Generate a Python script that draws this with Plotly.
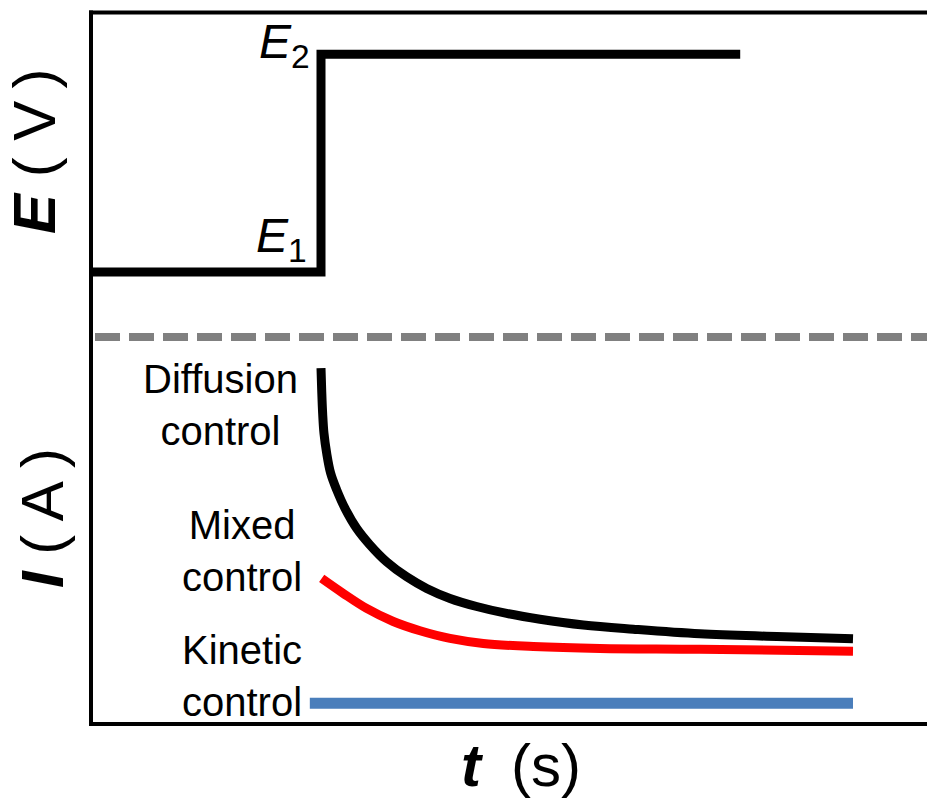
import plotly.graph_objects as go

# ---- data ----
# potential step (top panel)
step_t = [-4.342, 0.0, 0.0, 7.88]
step_E = [0.20, 0.20, 0.87, 0.87]

# current transients (bottom panel)
diff_t = [0.0, 0.013, 0.031, 0.056, 0.107, 0.182, 0.295, 0.451, 0.671, 0.921, 1.235, 1.611,
          1.987, 2.425, 2.926, 3.490, 4.117, 4.930, 5.870, 7.124, 8.57, 10.0]
diff_I = [0.919, 0.862, 0.802, 0.750, 0.698, 0.646, 0.603, 0.555, 0.503, 0.460, 0.416, 0.377,
          0.347, 0.321, 0.300, 0.282, 0.267, 0.252, 0.241, 0.229, 0.222, 0.216]

mixed_t = [0.013, 0.419, 0.858, 1.359, 1.861, 2.425, 3.051, 3.991, 5.244, 7.124, 10.0]
mixed_I = [0.373, 0.334, 0.295, 0.261, 0.237, 0.217, 0.204, 0.196, 0.191, 0.189, 0.184]

kin_t = [-0.21, 10.0]
kin_I = [0.049, 0.049]

labels = ["Diffusion<br>control", "Mixed<br>control", "Kinetic<br>control"]

# ---- layout helpers (pixel -> paper) ----
L, T, R, B = 90, 12, 0, 78
W, H = 927, 800
PW, PH = W - L - R, H - T - B


def px(x):
    return (x - L) / PW


def py(y):
    return (H - B - y) / PH


split = py(337)
FONT = "Liberation Sans, Arial, sans-serif"

fig = go.Figure()
fig.add_trace(go.Scatter(x=step_t, y=step_E, mode="lines", xaxis="x", yaxis="y",
                         line=dict(color="black", width=9), hoverinfo="skip"))
fig.add_trace(go.Scatter(x=kin_t, y=kin_I, mode="lines", xaxis="x", yaxis="y2",
                         line=dict(color="#4a7ebb", width=11), hoverinfo="skip"))
fig.add_trace(go.Scatter(x=mixed_t, y=mixed_I, mode="lines", xaxis="x", yaxis="y2",
                         line=dict(color="#ff0000", width=9, shape="spline", smoothing=1.0),
                         hoverinfo="skip"))
fig.add_trace(go.Scatter(x=diff_t, y=diff_I, mode="lines", xaxis="x", yaxis="y2",
                         line=dict(color="black", width=9, shape="spline", smoothing=1.0),
                         hoverinfo="skip"))

axis_common = dict(showgrid=False, zeroline=False, showticklabels=False, ticks="",
                   showline=False, fixedrange=True)

frame = dict(color="black", width=4)
fig.update_layout(
    width=W, height=H,
    margin=dict(l=L, r=R, t=T, b=B, pad=0),
    paper_bgcolor="white", plot_bgcolor="white",
    showlegend=False,
    font=dict(family=FONT, color="black"),
    xaxis=dict(domain=[0, 1], range=[-4.342, 11.391], anchor="y2", **axis_common),
    yaxis=dict(domain=[split, 1], range=[0, 1], anchor="x", **axis_common),
    yaxis2=dict(domain=[0, split], range=[0, 1], anchor="x", **axis_common),
    shapes=[
        # white strip at the right edge (the original frame has no right side)
        dict(type="rect", xref="paper", yref="paper", x0=px(905), x1=1.05, y0=-0.2, y1=1.1,
             fillcolor="white", line=dict(width=0), layer="above"),
        # frame: left, top, bottom
        dict(type="line", xref="paper", yref="paper", x0=px(91), x1=px(91), y0=py(724), y1=py(10.5),
             line=frame),
        dict(type="line", xref="paper", yref="paper", x0=px(89), x1=1.05, y0=py(12.5), y1=py(12.5),
             line=frame),
        dict(type="line", xref="paper", yref="paper", x0=px(89), x1=1.05, y0=py(724), y1=py(724),
             line=frame),
        # dashed separator
        dict(type="line", xref="paper", yref="paper", x0=px(95), x1=1.05, y0=split, y1=split,
             line=dict(color="#808080", width=8, dash="25px,9px")),
    ],
)

ann = []
# E labels
ann.append(dict(text="<i>E</i><sub>2</sub>", x=px(312), y=py(45), xanchor="right", yanchor="middle",
                font=dict(size=48)))
ann.append(dict(text="<i>E</i><sub>1</sub>", x=px(309), y=py(239), xanchor="right", yanchor="middle",
                font=dict(size=48)))
# curve labels
for lab, (cx, cy) in zip(labels, [(220, 405), (242, 551), (242, 676)]):
    ann.append(dict(text=lab, x=px(cx), y=py(cy), xanchor="center", yanchor="middle",
                    align="center", font=dict(size=40)))
# axis titles
ann.append(dict(text="<b><i>E</i></b> ( V\u2009)", x=px(35), y=py(151), xanchor="center", yanchor="middle",
                textangle=-90, font=dict(size=60)))
ann.append(dict(text="<b><i>I</i></b> ( A )", x=px(42), y=py(518), xanchor="center", yanchor="middle",
                textangle=-90, font=dict(size=60)))
ann.append(dict(text="<b><i>t</i></b>\u2002(s)", x=px(521), y=py(766), xanchor="center", yanchor="middle",
                font=dict(size=60)))
for a in ann:
    a.update(xref="paper", yref="paper", showarrow=False)
fig.update_layout(annotations=ann)

fig.write_html("out.html", config={"displayModeBar": False})
